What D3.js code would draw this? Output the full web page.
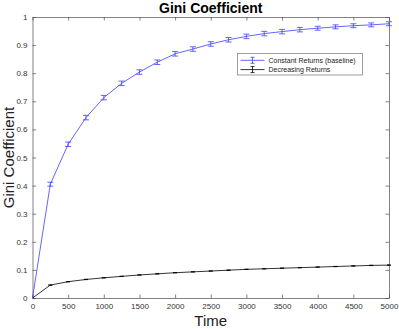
<!DOCTYPE html>
<html>
<head>
<meta charset="utf-8">
<script src="https://cdn.jsdelivr.net/npm/d3@7"></script>
<style>
  body { margin: 0; background: #fff; }
  text { font-family: "Liberation Sans", Arial, sans-serif; }
</style>
</head>
<body>
<div id="chart"></div>
<script>
// data
const times = [0, 250, 500, 750, 1000, 1250, 1500, 1750, 2000, 2250, 2500,
    2750, 3000, 3250, 3500, 3750, 4000, 4250, 4500, 4750, 5000];
const constantReturns = [0, 0.405, 0.547, 0.642, 0.713, 0.764, 0.804, 0.839, 0.869, 0.886, 0.904,
    0.919, 0.931, 0.941, 0.948, 0.955, 0.960, 0.965, 0.969, 0.972, 0.976];
const constantErr = [0, 0.007, 0.008, 0.008, 0.008, 0.008, 0.008, 0.008, 0.008, 0.008, 0.008,
    0.008, 0.008, 0.008, 0.008, 0.008, 0.007, 0.007, 0.007, 0.007, 0.007];
const decreasingReturns = [0, 0.046, 0.058, 0.066, 0.072, 0.077, 0.082, 0.086, 0.090, 0.093, 0.096,
    0.099, 0.102, 0.104, 0.106, 0.108, 0.110, 0.112, 0.114, 0.116, 0.117];
const decreasingErr = [0, 0.0006, 0.0006, 0.0006, 0.0006, 0.0006, 0.0006, 0.0006, 0.0006, 0.0006, 0.0006,
    0.0006, 0.0006, 0.0006, 0.0006, 0.0006, 0.0006, 0.0006, 0.0006, 0.0006, 0.0006];
const seriesNames = ["Constant Returns (baseline)", "Decreasing Returns"];
const seriesColors = ["#3d3dff", "#000000"];
const xTicks = d3.range(0, 5001, 500);
const yTicks = d3.range(0, 1.001, 0.1);

const W = 399, H = 329;
const margin = { top: 17, right: 10, bottom: 31, left: 32.5 },
    width = W - margin.left - margin.right,
    height = H - margin.top - margin.bottom;

const svg = d3.select("#chart").append("svg")
    .attr("width", W).attr("height", H);
const g = svg.append("g")
    .attr("transform", `translate(${margin.left}, ${margin.top})`);

const x = d3.scaleLinear().domain([0, 5000]).range([0, width]);
const y = d3.scaleLinear().domain([0, 1]).range([height, 0]);

const axisColor = "#4d4d4d";
const tickLen = 3.5;

// axes (MATLAB style: ticks inside, box on)
const xAxis = g.append("g").attr("transform", `translate(0, ${height})`)
    .call(d3.axisBottom(x).tickValues(xTicks).tickSize(-tickLen).tickPadding(5)
        .tickFormat(d3.format("d")).tickSizeOuter(0));
const xTop = g.append("g")
    .call(d3.axisTop(x).tickValues(xTicks).tickSize(-tickLen).tickFormat("").tickSizeOuter(0));
const yAxis = g.append("g")
    .call(d3.axisLeft(y).tickValues(yTicks).tickSize(-tickLen).tickPadding(5)
        .tickFormat(d => d === 0 ? "0" : d > 0.999 ? "1" : d3.format(".1f")(d)).tickSizeOuter(0));
const yRight = g.append("g").attr("transform", `translate(${width}, 0)`)
    .call(d3.axisRight(y).tickValues(yTicks).tickSize(-tickLen).tickFormat("").tickSizeOuter(0));

[xAxis, xTop, yAxis, yRight].forEach(a => {
    a.selectAll("path, line").attr("stroke", axisColor).attr("stroke-width", 0.7);
    a.selectAll("text").attr("fill", "#333").style("font-size", "8px")
        .style("font-family", "'Liberation Sans', Arial, sans-serif");
});

// series
const series = [
    { vals: constantReturns, err: constantErr, cap: 3 },
    { vals: decreasingReturns, err: decreasingErr, cap: 2 }
];
const line = d3.line().x(d => x(d[0])).y(d => y(d[1]));

series.forEach((s, i) => {
    const pts = times.map((t, j) => [t, s.vals[j], s.err[j]]);
    g.append("path").datum(pts)
        .attr("fill", "none").attr("stroke", seriesColors[i]).attr("stroke-width", 0.8)
        .attr("d", line);
    const eb = g.append("g").attr("stroke", seriesColors[i]).attr("stroke-width", 0.8);
    pts.forEach(p => {
        if (p[2] <= 0) return;
        const cx = x(p[0]), y1 = y(p[1] - p[2]), y2 = y(p[1] + p[2]);
        eb.append("line").attr("x1", cx).attr("x2", cx).attr("y1", y1).attr("y2", y2);
        eb.append("line").attr("x1", cx - s.cap).attr("x2", cx + s.cap).attr("y1", y1).attr("y2", y1);
        eb.append("line").attr("x1", cx - s.cap).attr("x2", cx + s.cap).attr("y1", y2).attr("y2", y2);
    });
});

// title & labels
svg.append("text").attr("x", margin.left + width / 2).attr("y", 13)
    .attr("text-anchor", "middle").style("font-size", "14px").style("font-weight", "bold")
    .attr("fill", "#000").text("Gini Coefficient");
svg.append("text").attr("x", margin.left + width / 2).attr("y", 326)
    .attr("text-anchor", "middle").style("font-size", "15px").attr("fill", "#222").text("Time");
svg.append("text")
    .attr("transform", `translate(14, ${margin.top + height / 2}) rotate(-90)`)
    .attr("text-anchor", "middle").style("font-size", "15px").attr("fill", "#222")
    .text("Gini Coefficient");

// legend
const lg = svg.append("g").attr("transform", "translate(237.5, 53.5)");
lg.append("rect").attr("width", 125).attr("height", 21.5)
    .attr("fill", "#fff").attr("stroke", "#777").attr("stroke-width", 0.7);
seriesNames.forEach((name, i) => {
    const ly = 6.8 + i * 9.3;
    const row = lg.append("g").attr("stroke", seriesColors[i]).attr("stroke-width", 0.8);
    row.append("line").attr("x1", 3).attr("x2", 27).attr("y1", ly).attr("y2", ly);
    row.append("line").attr("x1", 15).attr("x2", 15).attr("y1", ly - 3).attr("y2", ly + 3);
    row.append("line").attr("x1", 13).attr("x2", 17).attr("y1", ly - 3).attr("y2", ly - 3);
    row.append("line").attr("x1", 13).attr("x2", 17).attr("y1", ly + 3).attr("y2", ly + 3);
    lg.append("text").attr("x", 31).attr("y", ly + 2.5).style("font-size", "7px")
        .attr("fill", "#222").text(name);
});
</script>
</body>
</html>
